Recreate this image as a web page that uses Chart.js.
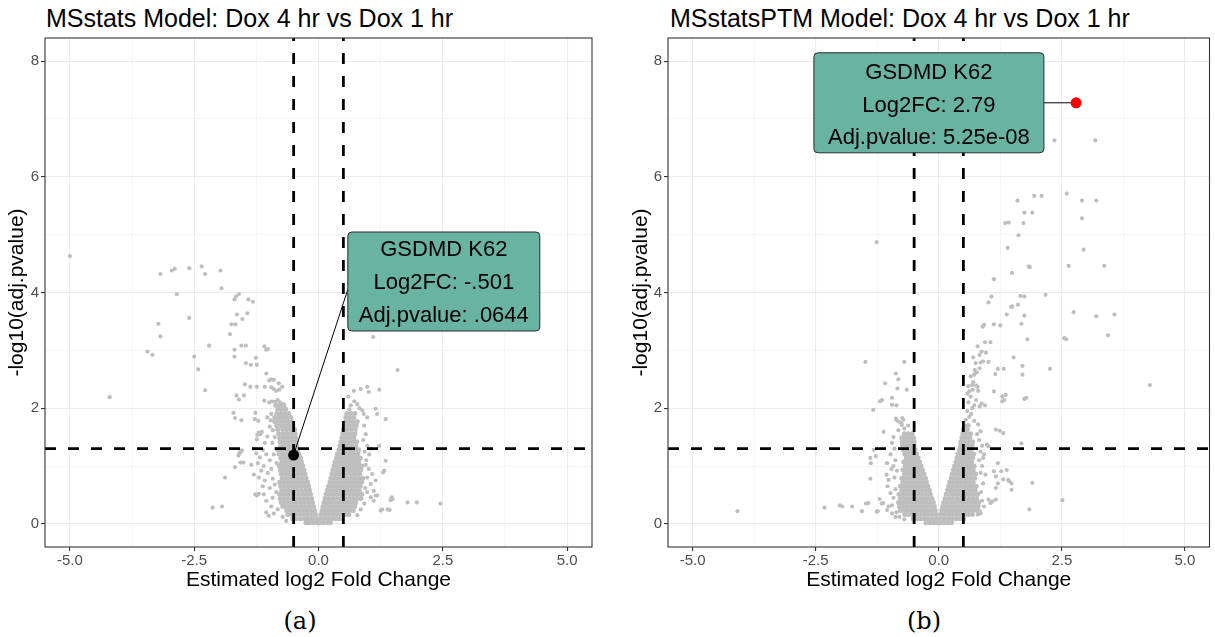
<!DOCTYPE html>
<html><head><meta charset="utf-8">
<script src="https://cdn.jsdelivr.net/npm/chart.js@4.4.0/dist/chart.umd.min.js"></script>
<style>
html,body{margin:0;padding:0;background:#fff;}
body{width:1215px;height:637px;overflow:hidden;position:relative;font-family:"Liberation Sans",Arial,sans-serif;}
.title{position:absolute;top:4px;font-size:25px;color:#000;white-space:nowrap;line-height:28px;}
.cap{position:absolute;top:605px;font-family:"DejaVu Serif","Liberation Serif",serif;font-size:24px;line-height:32px;width:60px;text-align:center;color:#000;}
canvas{position:absolute;top:0;}
</style></head>
<body>
<div class="title" style="left:46px">MSstats Model: Dox 4 hr vs Dox 1 hr</div>
<div class="title" style="left:670px">MSstatsPTM Model: Dox 4 hr vs Dox 1 hr</div>
<canvas id="ca" width="607" height="600" style="left:0"></canvas>
<canvas id="cb" width="593" height="600" style="left:622px"></canvas>
<div class="cap" style="left:270px">(a)</div>
<div class="cap" style="left:894px">(b)</div>
<script>
// ---------- axis ticks ----------
const xMajorTicks = [-5, -2.5, 0, 2.5, 5];
const xTickLabels = ["-5.0", "-2.5", "0.0", "2.5", "5.0"];
const xMinorTicks = [-3.75, -1.25, 1.25, 3.75];
const yMajorTicks = [0, 2, 4, 6, 8];
const yTickLabels = ["0", "2", "4", "6", "8"];
const yMinorTicks = [1, 3, 5, 7];

// ---------- cut-offs ----------
const foldCutoffs = [-0.5, 0.5];
const pCutoff = 1.3;   // -log10(0.05)

// ---------- highlighted site ----------
const labelA = ["GSDMD K62", "Log2FC: -.501", "Adj.pvalue: .0644"];
const labelB = ["GSDMD K62", "Log2FC: 2.79", "Adj.pvalue: 5.25e-08"];
const highlightA = [[-0.501, 1.19]];
const highlightB = [[2.79, 7.28]];

// ---------- (a) MSstats: dense core rows [y, [x...]] ----------
const coreA = [
 [0.02,[-0.25,-0.18,-0.10,-0.02,0.02,0.10,0.18,0.24]],
 [0.09,[-0.52,-0.44,-0.36,-0.28,-0.20,-0.12,-0.04,0.03,0.11,0.19,0.27,0.35,0.43]],
 [0.16,[-0.62,-0.54,-0.46,-0.38,-0.30,-0.22,-0.14,-0.06,0.05,0.13,0.21,0.29,0.37,0.45,0.53,0.61]],
 [0.23,[-0.64,-0.56,-0.48,-0.40,-0.32,-0.24,-0.16,-0.08,0.07,0.15,0.23,0.31,0.39,0.47,0.55,0.63,0.70]],
 [0.30,[-0.72,-0.66,-0.58,-0.50,-0.42,-0.34,-0.26,-0.18,-0.10,0.09,0.17,0.25,0.33,0.41,0.49,0.57,0.65,0.73]],
 [0.37,[-0.75,-0.68,-0.60,-0.52,-0.44,-0.36,-0.28,-0.20,-0.12,0.11,0.19,0.27,0.35,0.43,0.51,0.59,0.67,0.75]],
 [0.44,[-0.77,-0.70,-0.62,-0.54,-0.46,-0.38,-0.30,-0.22,-0.14,0.13,0.21,0.29,0.37,0.45,0.53,0.61,0.69,0.77,0.85]],
 [0.51,[-0.78,-0.72,-0.64,-0.56,-0.48,-0.40,-0.32,-0.24,-0.16,0.15,0.23,0.31,0.39,0.47,0.55,0.63,0.71,0.79,0.87]],
 [0.58,[-0.74,-0.66,-0.58,-0.50,-0.42,-0.34,-0.26,-0.18,0.18,0.26,0.34,0.42,0.50,0.58,0.66,0.74,0.82]],
 [0.65,[-0.76,-0.68,-0.60,-0.52,-0.44,-0.36,-0.28,-0.20,0.20,0.28,0.36,0.44,0.52,0.60,0.68,0.76,0.84]],
 [0.72,[-0.78,-0.70,-0.62,-0.54,-0.46,-0.38,-0.30,-0.22,0.23,0.31,0.39,0.47,0.55,0.63,0.71,0.79,0.87]],
 [0.79,[-0.73,-0.65,-0.57,-0.49,-0.41,-0.33,-0.25,0.25,0.33,0.41,0.49,0.57,0.65,0.73,0.81,0.89]],
 [0.86,[-0.75,-0.67,-0.59,-0.51,-0.43,-0.35,-0.27,0.27,0.35,0.43,0.51,0.59,0.67,0.75,0.83]],
 [0.93,[-0.77,-0.69,-0.61,-0.53,-0.45,-0.37,-0.29,0.29,0.37,0.45,0.53,0.61,0.69,0.77,0.85]],
 [1.00,[-0.79,-0.72,-0.64,-0.56,-0.48,-0.40,-0.32,0.31,0.39,0.47,0.55,0.63,0.71,0.79,0.87]],
 [1.07,[-0.74,-0.66,-0.58,-0.50,-0.42,-0.34,0.33,0.41,0.49,0.57,0.65,0.73,0.81]],
 [1.14,[-0.76,-0.68,-0.60,-0.52,-0.44,-0.36,0.36,0.44,0.52,0.60,0.68,0.76,0.84]],
 [1.21,[-0.79,-0.71,-0.63,-0.55,-0.47,-0.39,0.38,0.46,0.54,0.62,0.70,0.78]],
 [1.28,[-0.82,-0.74,-0.66,-0.58,-0.50,-0.42,0.41,0.49,0.57,0.65,0.73,0.81]],
 [1.35,[-0.76,-0.68,-0.60,-0.52,-0.44,0.43,0.51,0.59,0.67,0.75]],
 [1.42,[-0.77,-0.69,-0.61,-0.53,-0.45,0.45,0.53,0.61,0.69,0.77]],
 [1.49,[-0.78,-0.70,-0.62,-0.54,-0.46,0.47,0.55,0.63,0.71]],
 [1.56,[-0.80,-0.71,-0.63,-0.55,-0.47,0.49,0.57,0.65,0.73]],
 [1.63,[-0.82,-0.72,-0.64,-0.56,-0.48,0.50,0.58,0.66,0.74]],
 [1.70,[-0.84,-0.76,-0.68,-0.60,-0.52,0.52,0.60,0.68,0.76]],
 [1.77,[-0.86,-0.78,-0.70,-0.62,-0.54,0.54,0.62,0.70,0.78]],
 [1.84,[-0.88,-0.80,-0.72,-0.64,-0.56,0.55,0.63,0.71]],
 [1.91,[-0.84,-0.76,-0.68,-0.60,0.57,0.65,0.73]],
 [1.98,[-0.82,-0.74,-0.66]],
 [2.05,[-0.86,-0.78,-0.70]]
];

// ---------- (a) MSstats: scattered sites [log2FC, -log10(adj.p)] ----------
const scatterA = [
[-5.00,4.63],[-4.20,2.19],[-3.18,4.32],[-2.95,4.38],[-2.89,4.41],[-2.60,4.42],[-2.35,4.45],[-2.28,4.32],[-1.97,4.38],[-1.95,4.07],
[-2.85,3.97],[-3.22,3.46],[-3.18,3.24],[-2.60,3.56],[-3.44,2.98],[-3.34,2.92],[-2.50,2.89],[-2.42,2.67],[-2.28,2.31],[-2.20,3.08],
[-1.78,3.28],[-1.75,3.45],[-1.67,3.45],[-1.64,3.62],[-1.53,3.54],[-1.43,3.64],[-1.69,3.88],[-1.66,3.93],[-1.60,3.97],[-1.41,3.88],[-1.32,3.84],
[-1.69,3.01],[-1.55,3.08],[-1.46,3.08],[-1.69,2.89],[-1.46,2.78],[-1.36,2.75],[-1.24,2.75],[-1.26,2.87],[-1.09,3.07],[-1.05,3.01],[-1.02,3.02],
[-1.48,2.41],[-1.37,2.37],[-1.24,2.37],[-1.08,2.37],[-1.05,2.60],[-0.99,2.48],[-0.95,2.50],[-0.90,2.49],
[-0.95,2.36],[-0.90,2.33],[-0.85,2.30],[-0.80,2.43],[-0.73,2.37],[-0.79,2.32],[-1.65,2.22],[-1.60,2.15],[-1.50,2.22],
[-1.09,2.13],[-0.99,2.10],[-0.93,2.12],[-0.87,2.11],[-0.82,2.14],[-0.77,2.10],[-0.70,2.07],
[-1.71,1.92],[-1.68,1.83],[-1.55,1.79],[-1.27,1.92],[-1.28,1.81],[-1.21,1.78],[-1.03,1.84],[-0.96,1.79],[-0.89,1.76],[-0.95,1.90],
[-1.14,1.59],[-1.23,1.54],[-1.24,1.46],[-1.03,1.51],[-0.93,1.40],[-1.17,1.55],[-1.20,1.58],[-0.88,1.50],[-0.92,1.62],[-0.98,1.68],[-1.08,1.40],
[-1.59,1.22],[-1.54,1.27],[-1.61,1.18],[-1.51,1.06],[-1.68,0.98],[-1.57,1.24],[-1.57,1.06],
[-2.13,0.28],[-1.94,0.30],[-1.88,0.80],[-1.27,0.51],[-1.20,0.52],[-1.10,0.51],[-1.24,0.49],[-1.05,0.20],[-1.00,0.14],
[-1.30,1.30],[-1.25,1.22],[-1.12,1.28],[-1.18,1.15],[-1.05,1.20],[-1.22,1.05],[-1.10,1.00],[-0.98,1.10],[-1.15,0.92],[-1.02,0.88],
[-0.95,0.95],[-1.20,0.80],[-1.08,0.75],[-0.92,0.78],[-1.12,0.65],[-0.98,0.62],[-0.88,0.68],[-1.05,0.40],[-0.92,0.45],[-0.85,0.55],
[-0.95,0.30],[-0.82,0.25],[-0.90,0.18],[-0.72,0.12],[-0.65,0.05],[-1.30,0.85],[-1.35,1.02],[-0.86,1.30],[-0.90,1.20],[-0.84,1.05],
[1.10,3.23],[1.59,2.66],[1.35,1.81],[1.22,2.32],[0.98,2.37],[0.71,2.30],[0.85,2.33],[1.01,2.28],[1.15,1.99],[1.18,1.90],
[0.78,2.07],[0.88,1.96],[0.91,1.90],[0.98,1.84],[0.82,2.00],[0.72,2.12],[0.65,2.05],[0.62,1.98],[0.60,2.20],
[1.79,0.37],[1.98,0.37],[2.45,0.35],[1.45,0.41],[1.47,0.46],[1.25,0.23],[1.28,0.25],[1.43,0.24],[1.11,0.40],[1.05,0.46],
[1.15,0.49],[1.30,0.89],[1.35,1.09],[1.22,1.35],[1.32,0.92],[1.49,0.43],[1.39,0.25],[1.11,0.57],[1.18,0.49],[1.15,0.75],
[1.08,0.86],[1.01,0.95],[0.98,0.80],[1.05,0.69],[0.92,1.70],[0.95,1.55],[0.90,1.45],[0.98,1.35],[0.93,1.25],[1.02,1.20],
[0.96,1.10],[0.94,0.62],[0.98,0.55],[0.92,0.35],[0.85,0.25],[0.78,0.15],[0.95,1.02],[1.05,1.30],[0.80,1.22]
];

// ---------- (b) MSstatsPTM: dense core rows [y, [x...]] ----------
const coreB = [
 [0.02,[-0.26,-0.18,-0.10,-0.02,0.02,0.10,0.18,0.26]],
 [0.09,[-0.52,-0.44,-0.36,-0.28,-0.20,-0.12,-0.04,0.03,0.11,0.19,0.27,0.35,0.43,0.51]],
 [0.16,[-0.69,-0.61,-0.53,-0.45,-0.37,-0.29,-0.21,-0.13,-0.05,0.04,0.12,0.20,0.28,0.36,0.44,0.52,0.60,0.68]],
 [0.23,[-0.78,-0.71,-0.63,-0.55,-0.47,-0.39,-0.31,-0.23,-0.15,-0.07,0.06,0.14,0.22,0.30,0.38,0.46,0.54,0.62,0.70,0.78]],
 [0.30,[-0.80,-0.73,-0.65,-0.57,-0.49,-0.41,-0.33,-0.25,-0.17,-0.09,0.08,0.16,0.24,0.32,0.40,0.48,0.56,0.64,0.72,0.80]],
 [0.37,[-0.82,-0.75,-0.67,-0.59,-0.51,-0.43,-0.35,-0.27,-0.19,-0.11,0.10,0.18,0.26,0.34,0.42,0.50,0.58,0.66,0.74,0.81]],
 [0.44,[-0.78,-0.70,-0.62,-0.54,-0.46,-0.38,-0.30,-0.22,-0.14,0.13,0.21,0.29,0.37,0.45,0.53,0.61,0.69,0.77]],
 [0.51,[-0.81,-0.73,-0.65,-0.57,-0.49,-0.41,-0.33,-0.25,-0.17,0.15,0.23,0.31,0.39,0.47,0.55,0.63,0.71,0.79]],
 [0.58,[-0.75,-0.67,-0.59,-0.51,-0.43,-0.35,-0.27,-0.19,0.18,0.26,0.34,0.42,0.50,0.58,0.66,0.74]],
 [0.65,[-0.78,-0.70,-0.62,-0.54,-0.46,-0.38,-0.30,-0.22,0.20,0.28,0.36,0.44,0.52,0.60,0.68,0.76]],
 [0.72,[-0.73,-0.65,-0.57,-0.49,-0.41,-0.33,-0.25,0.22,0.30,0.38,0.46,0.54,0.62,0.70]],
 [0.79,[-0.75,-0.67,-0.59,-0.51,-0.43,-0.35,-0.27,0.25,0.33,0.41,0.49,0.57,0.65,0.73]],
 [0.86,[-0.70,-0.62,-0.54,-0.46,-0.38,-0.30,0.27,0.35,0.43,0.51,0.59,0.67,0.75]],
 [0.93,[-0.73,-0.65,-0.57,-0.49,-0.41,-0.33,0.30,0.38,0.46,0.54,0.62,0.70]],
 [1.00,[-0.68,-0.60,-0.52,-0.44,-0.36,0.32,0.40,0.48,0.56,0.64,0.72]],
 [1.07,[-0.71,-0.63,-0.55,-0.47,-0.39,0.35,0.43,0.51,0.59,0.67]],
 [1.14,[-0.66,-0.58,-0.50,-0.42,0.37,0.45,0.53,0.61,0.69]],
 [1.21,[-0.69,-0.61,-0.53,-0.45,0.39,0.47,0.55,0.63,0.71]],
 [1.28,[-0.72,-0.64,-0.56,-0.48,0.42,0.50,0.58,0.66]],
 [1.35,[-0.74,-0.66,-0.58,-0.50,0.44,0.52,0.60,0.68]],
 [1.42,[-0.74,-0.66,-0.58,-0.50,0.45,0.53,0.61,0.69]],
 [1.49,[-0.75,-0.67,-0.59,-0.51,0.47,0.55,0.63]],
 [1.56,[-0.70,-0.62,-0.54,0.49,0.57,0.65]],
 [1.63,[0.50,0.58]],
 [1.70,[0.52,0.60]]
];

// ---------- (b) MSstatsPTM: scattered sites ----------
const scatterB = [
[2.35,6.63],[3.18,6.63],
[-1.26,4.87],[1.60,5.59],[1.94,5.67],[2.09,5.67],[2.60,5.71],[2.91,5.59],[3.20,5.59],[2.91,5.28],[1.74,5.38],[1.90,5.38],
[1.35,5.20],[1.42,5.21],[1.72,5.20],[1.62,4.99],[1.40,4.77],[2.94,4.74],[1.83,4.45],[1.85,4.44],[2.64,4.46],[3.36,4.46],
[1.49,4.34],[1.12,4.23],[1.66,3.94],[1.74,3.93],[2.17,3.96],[1.07,3.93],[1.01,3.83],[1.47,3.75],[1.49,3.76],[1.61,3.79],
[1.38,3.62],[1.74,3.60],[2.74,3.66],[3.20,3.59],[3.57,3.62],[3.44,3.26],[2.55,3.21],[2.59,3.19],[1.80,3.19],[1.68,3.46],
[1.12,3.45],[1.25,3.43],[0.89,3.41],[0.92,3.44],[0.79,3.07],[0.94,3.14],[1.05,3.14],[0.87,2.98],[0.96,2.96],[0.83,2.92],
[0.70,2.88],[0.90,2.81],[1.01,2.80],[0.85,2.79],[0.75,2.78],[1.52,2.88],[0.73,2.66],[0.83,2.69],[0.77,2.62],[0.72,2.58],
[1.20,2.68],[1.32,2.68],[1.15,2.59],[1.70,2.73],[1.70,2.58],[2.26,2.68],[4.29,2.40],[1.12,2.29],
[0.62,2.29],[0.69,2.32],[0.76,2.39],[0.80,2.30],[0.65,2.20],[0.76,2.14],[0.87,2.08],[0.94,2.05],[0.83,2.03],[0.72,2.05],[0.60,2.10],[0.68,2.00],
[1.29,2.20],[1.33,2.14],[1.29,2.12],[1.78,2.18],[1.74,2.16],[1.36,2.23],[0.79,2.37],
[-1.49,2.80],[-0.70,2.80],[-0.87,2.60],[-0.82,2.50],[-1.09,2.43],[-0.84,2.34],[-0.65,2.32],[-1.15,2.14],[-1.19,2.12],[-0.95,2.18],
[-0.95,2.06],[-0.86,2.05],[-1.33,1.97],[-0.87,1.82],[-0.74,1.83],[-0.72,1.80],[-0.75,1.71],
[-4.09,0.22],[-2.32,0.28],[-2.01,0.32],[-1.96,0.30],[-1.76,0.30],[-1.56,0.22],[-1.48,0.35],[-1.43,0.36],[-1.24,0.22],[-1.39,0.78],
[-1.12,1.59],[-0.86,1.80],[-0.82,1.77],[-0.76,1.74],[-1.32,1.28],[-1.28,1.17],[-1.38,1.05],[-1.39,1.14],[-1.06,0.85],[-1.02,0.76],
[-1.04,0.65],[-0.98,0.53],[-1.20,0.43],[-1.13,0.36],[-1.02,0.30],[-0.95,0.32],[-1.16,0.35],[-1.26,0.21],[-1.05,0.24],
[-0.92,1.50],[-0.95,1.40],[-0.90,1.30],[-0.98,1.20],[-0.88,1.10],[-0.92,1.00],[-0.85,0.92],[-0.96,0.95],[-0.90,0.80],[-0.88,0.60],
[-0.92,0.45],[-0.86,0.20],[-0.80,0.12],[-0.70,0.08],[-1.05,1.05],[-0.82,1.62],[-0.70,1.65],[-0.62,1.70],[-0.88,0.12],[-0.95,0.18],
[1.84,0.25],[2.51,0.41],[1.90,0.71],[1.48,0.59],[1.43,0.74],[1.38,0.93],[1.31,0.77],[1.16,0.62],[1.05,0.36],[1.01,0.42],
[1.09,0.39],[1.16,0.42],[1.68,1.39],[1.16,1.63],[1.24,1.61],[1.31,1.57],[0.98,1.37],[1.01,1.34],[0.90,1.14],[1.12,0.91],
[1.27,0.91],[1.16,0.82],[1.20,1.05],[1.20,0.70],[0.79,0.16],[0.83,0.22],[0.75,0.25],[1.41,0.76],[1.48,0.70],
[0.55,1.80],[0.62,1.85],[0.58,1.95],[0.66,1.90],[0.72,1.78],[0.80,1.72],[0.85,1.60],[0.78,1.55],[0.82,1.45],[0.88,1.35],
[0.85,1.25],[0.92,1.20],[0.82,1.10],[0.88,1.00],[0.85,0.88],[0.95,0.85],[0.90,0.70],[0.86,0.55],[0.88,0.40],[0.92,0.30],
[0.85,0.18],[0.68,2.40],[0.65,2.55],[0.70,2.45],[0.60,2.38],[0.58,2.25]
];

// ---------- helpers ----------
const toPts = arr => arr.map(([x, y]) => ({x, y}));
const rowsToPts = rows => rows.flatMap(([y, xs]) => xs.map(x => ({x, y})));
const allX = [...xMajorTicks, ...xMinorTicks].sort((a, b) => a - b);
const allY = [...yMajorTicks, ...yMinorTicks].sort((a, b) => a - b);
const GRID = '#EBEBEB', DARK = '#333333', TICKTXT = '#4D4D4D', PT = '#BEBEBE';
const FONT = '"Liberation Sans", Arial, sans-serif';

const overlay = {
  id: 'overlay',
  beforeDatasetDraw(chart, args, o) {
    if (args.index !== 0) return;
    const {ctx, chartArea: a, scales: {x, y}} = chart;
    ctx.save();
    ctx.beginPath(); ctx.rect(a.left, a.top, a.right - a.left, a.bottom - a.top); ctx.clip();
    ctx.strokeStyle = '#000'; ctx.lineWidth = 2.8; ctx.setLineDash([11, 12]);
    foldCutoffs.forEach(v => {
      const px = x.getPixelForValue(v);
      ctx.beginPath(); ctx.moveTo(px, a.bottom); ctx.lineTo(px, a.top); ctx.stroke();
    });
    const hy = y.getPixelForValue(pCutoff);
    ctx.beginPath(); ctx.moveTo(a.left, hy); ctx.lineTo(a.right, hy); ctx.stroke();
    ctx.setLineDash([]);
    // label with segment
    const hp = chart.data.datasets[0].data[0];
    const px = x.getPixelForValue(hp.x), py = y.getPixelForValue(hp.y);
    const cx = x.getPixelForValue(o.at[0]), cy = y.getPixelForValue(o.at[1]);
    const L = cx - o.w / 2, T = cy - o.h / 2;
    const ex = o.side === 'left' ? L : L + o.w, ey = cy + o.segDy;
    ctx.strokeStyle = '#000'; ctx.lineWidth = 1;
    ctx.beginPath(); ctx.moveTo(px, py); ctx.lineTo(ex, ey); ctx.stroke();
    const r = 4;
    ctx.beginPath();
    ctx.moveTo(L + r, T); ctx.lineTo(L + o.w - r, T); ctx.arcTo(L + o.w, T, L + o.w, T + r, r);
    ctx.lineTo(L + o.w, T + o.h - r); ctx.arcTo(L + o.w, T + o.h, L + o.w - r, T + o.h, r);
    ctx.lineTo(L + r, T + o.h); ctx.arcTo(L, T + o.h, L, T + o.h - r, r);
    ctx.lineTo(L, T + r); ctx.arcTo(L, T, L + r, T, r); ctx.closePath();
    ctx.fillStyle = '#69B3A2'; ctx.fill();
    ctx.strokeStyle = '#2A2A2A'; ctx.lineWidth = 1; ctx.stroke();
    ctx.fillStyle = '#000'; ctx.font = '22px ' + FONT;
    ctx.textAlign = 'center'; ctx.textBaseline = 'middle';
    o.text.forEach((t, i) => ctx.fillText(t, cx + (o.dx || 0), cy + o.lineOffsets[i]));
    ctx.restore();
  },
  afterDraw(chart) {
    const {ctx, chartArea: a} = chart;
    ctx.save();
    ctx.strokeStyle = DARK; ctx.lineWidth = 1.1;
    ctx.strokeRect(a.left, a.top, a.right - a.left, a.bottom - a.top);
    ctx.restore();
  }
};

function makeChart(id, core, scatter, hl, hlColor, hlRadius, yAxisW, padRight, yTitlePad, ov) {
  return new Chart(document.getElementById(id), {
    type: 'scatter',
    data: {
      datasets: [
        {label: 'highlight', data: toPts(hl), backgroundColor: hlColor, borderWidth: 0, pointRadius: hlRadius, order: 0},
        {label: 'core', data: rowsToPts(core), backgroundColor: PT, borderWidth: 0, pointRadius: 2.5, order: 1},
        {label: 'sites', data: toPts(scatter), backgroundColor: PT, borderWidth: 0, pointRadius: 2.1, order: 2}
      ]
    },
    options: {
      responsive: false, animation: false, events: [], devicePixelRatio: 1,
      layout: {padding: {top: 38, right: padRight, bottom: 0, left: 0}},
      plugins: {legend: {display: false}, tooltip: {enabled: false}, title: {display: false}, overlay: ov},
      scales: {
        x: {
          type: 'linear', min: -5.5, max: 5.5,
          afterBuildTicks: s => { s.ticks = allX.map(v => ({value: v})); },
          afterFit: s => { s.height = 53; s.paddingLeft = 0; s.paddingRight = 0; },
          ticks: {autoSkip: false, maxRotation: 0, padding: 1, color: TICKTXT, font: {family: FONT, size: 15},
            callback: v => { const i = xMajorTicks.indexOf(v); return i >= 0 ? xTickLabels[i] : ''; }},
          grid: {color: GRID, lineWidth: c => xMajorTicks.includes(c.tick.value) ? 1.1 : 0.55,
            tickColor: c => xMajorTicks.includes(c.tick.value) ? DARK : 'rgba(0,0,0,0)', tickLength: 4, tickWidth: 1.1},
          border: {display: false},
          title: {display: true, text: 'Estimated log2 Fold Change', color: '#000', font: {family: FONT, size: 21}, padding: {top: 0, bottom: 7}}
        },
        y: {
          type: 'linear', min: -0.4, max: 8.4,
          afterBuildTicks: s => { s.ticks = allY.map(v => ({value: v})); },
          afterFit: s => { s.width = yAxisW; s.paddingTop = 0; s.paddingBottom = 0; },
          ticks: {padding: 2, color: TICKTXT, font: {family: FONT, size: 15},
            callback: v => { const i = yMajorTicks.indexOf(v); return i >= 0 ? yTickLabels[i] : ''; }},
          grid: {color: GRID, lineWidth: c => yMajorTicks.includes(c.tick.value) ? 1.1 : 0.55,
            tickColor: c => yMajorTicks.includes(c.tick.value) ? DARK : 'rgba(0,0,0,0)', tickLength: 4, tickWidth: 1.1},
          border: {display: false},
          title: {display: true, text: '-log10(adj.pvalue)', color: '#000', font: {family: FONT, size: 21}, padding: {top: yTitlePad, bottom: 0}}
        }
      }
    },
    plugins: [overlay]
  });
}

makeChart('ca', coreA, scatterA, highlightA, '#000000', 5.5, 45, 15, 5,
  {text: labelA, at: [2.52, 4.19], w: 192, h: 99, side: 'left', segDy: 8, lineOffsets: [-32, 1, 34]});
makeChart('cb', coreB, scatterB, highlightB, '#FF0000', 5.5, 46, 1, 7,
  {text: labelB, at: [-0.2, 7.28], w: 230, h: 100, side: 'right', segDy: 0, lineOffsets: [-30, 3, 35]});
</script>
</body></html>
